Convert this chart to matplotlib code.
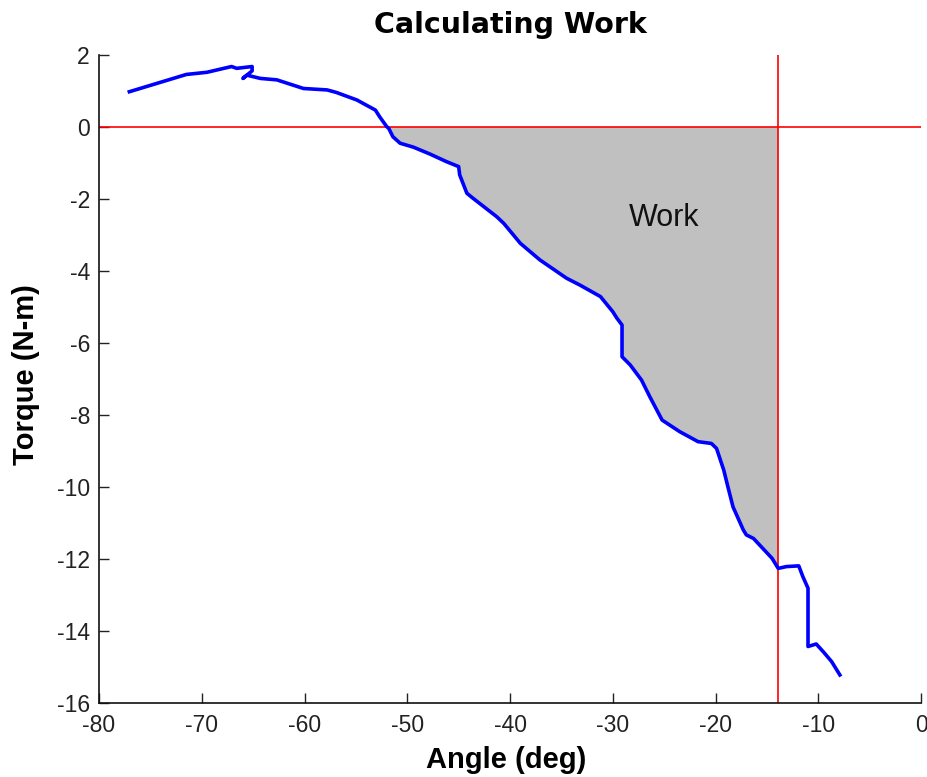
import numpy as np
import matplotlib
matplotlib.use("Agg")
import matplotlib.pyplot as plt

plt.rcParams['font.family'] = ['Liberation Sans', 'DejaVu Sans']
plt.rcParams['axes.unicode_minus'] = False

# Torque-angle trace
angle = [-77.05, -71.5, -69.5, -67.4, -67.1, -66.6, -65.1, -65.1, -66.0, -65.6, -64.3,
         -62.7, -60.1, -57.8, -56.9, -54.9, -53.1, -52.7, -52.0, -51.8, -51.4, -50.7,
         -49.4, -47.8, -46.2, -45.0, -44.9, -44.2, -43.6, -41.3, -40.6, -39.0, -37.1,
         -34.5, -33.2, -31.2, -30.0, -29.6, -29.1, -29.1, -28.3, -27.2, -26.4, -25.2,
         -23.5, -21.7, -20.4, -19.9, -19.2, -18.8, -18.3, -17.3, -17.0, -16.3, -14.5,
         -13.9, -13.1, -11.9, -11.5, -11.0, -11.0, -10.2, -9.5, -8.7, -7.9]
torque = [0.98, 1.46, 1.52, 1.66, 1.68, 1.63, 1.68, 1.56, 1.35, 1.44, 1.35,
          1.31, 1.07, 1.03, 0.96, 0.75, 0.47, 0.29, 0.01, -0.04, -0.27, -0.45,
          -0.56, -0.75, -0.96, -1.10, -1.33, -1.84, -1.98, -2.49, -2.68, -3.23, -3.69,
          -4.20, -4.39, -4.71, -5.13, -5.31, -5.50, -6.38, -6.61, -7.03, -7.49, -8.14,
          -8.46, -8.74, -8.79, -8.93, -9.53, -9.99, -10.55, -11.19, -11.33, -11.43, -11.98,
          -12.26, -12.21, -12.19, -12.49, -12.81, -14.43, -14.36, -14.58, -14.85, -15.22]

end_angle = -13.9
x_ticks = [-80, -70, -60, -50, -40, -30, -20, -10, 0]
y_ticks = [2, 0, -2, -4, -6, -8, -10, -12, -14, -16]

x = np.array(angle)
y = np.array(torque)

fig = plt.figure(figsize=(9.28, 7.77), dpi=100)
ax = fig.add_axes([0.1067, 0.0952, 0.8858, 0.834])

# shaded work region: from zero crossing to the end angle
i0 = np.where(y <= 0)[0][0]
x_cross = np.interp(0, [y[i0], y[i0 - 1]], [x[i0], x[i0 - 1]])
seg = (x > x_cross) & (x < end_angle) & (np.arange(len(x)) >= i0)
y_end = np.interp(end_angle, x[i0:], y[i0:])
px = np.concatenate([[x_cross], x[seg], [end_angle, end_angle]])
py = np.concatenate([[0], y[seg], [y_end, 0]])
ax.fill(px, py, color='#c0c0c0', lw=0, zorder=1)

ax.plot(x, y, color='#0000ff', lw=2.6, zorder=3, solid_joinstyle='round')
ax.axhline(0, color='#ff0000', lw=1.2, zorder=2)
ax.axvline(end_angle, color='#ff0000', lw=1.2, zorder=2)

ax.text(-25.0, -2.53, 'Work', fontsize=22, ha='center', va='center', color='#111111')

ax.set_xlim(-80, 0)
ax.set_ylim(-16, 2)
ax.set_xticks(x_ticks)
ax.set_yticks(y_ticks)
ax.tick_params(direction='in', length=7, width=1, labelsize=16.5, colors='#222222')
ax.tick_params(axis='y', pad=6.5)
ax.tick_params(axis='x', pad=8)
for s in ['top', 'right']:
    ax.spines[s].set_visible(False)
for s in ['left', 'bottom']:
    ax.spines[s].set_linewidth(1.2)
    ax.spines[s].set_color('#111111')

fig.text(0.5496, 0.9575, 'Calculating Work', fontsize=20.5, fontweight='bold',
         ha='center', va='baseline', family=['DejaVu Sans'])
fig.text(0.5458, 0.0116, 'Angle (deg)', fontsize=21, fontweight='bold',
         ha='center', va='baseline')
fig.text(0.028, 0.5174, 'Torque (N-m)', fontsize=21, fontweight='bold',
         ha='center', va='center', rotation=90)

fig.savefig('out.png', dpi=100)
